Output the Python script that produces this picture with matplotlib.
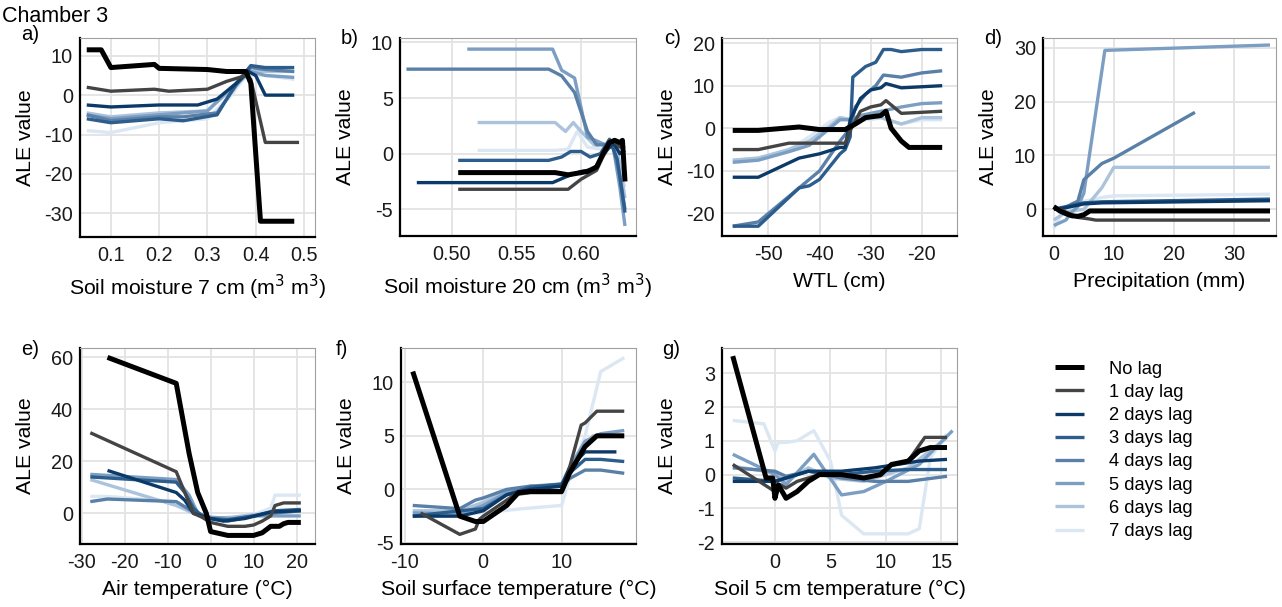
#!/usr/bin/env python3
"""ALE curves per lag for Chamber 3, seven driver panels plus a legend."""

import matplotlib
matplotlib.use("Agg")
import matplotlib.pyplot as plt

plt.rcParams["font.family"] = ["Liberation Sans", "DejaVu Sans"]
plt.rcParams["axes.unicode_minus"] = False

W, H = 1282, 607

LAGS = ["No lag", "1 day lag", "2 days lag", "3 days lag",
        "4 days lag", "5 days lag", "6 days lag", "7 days lag"]
LAG_COLORS = ["#000000", "#444444", "#0b3a68", "#2d5d8c",
              "#5a80a8", "#7b9ec2", "#abc3dc", "#dbe7f3"]

# ---- a) Soil moisture 7 cm -------------------------------------------------
sm7_x = {
    "No lag": [0.05, 0.08, 0.10, 0.19, 0.20, 0.30, 0.34, 0.38, 0.39, 0.41, 0.48],
    "1 day lag": [0.05, 0.10, 0.19, 0.22, 0.30, 0.34, 0.38, 0.39, 0.42, 0.49],
    "2 days lag": [0.05, 0.10, 0.20, 0.28, 0.32, 0.36, 0.385, 0.40, 0.42, 0.48],
    "3 days lag": [0.05, 0.10, 0.20, 0.25, 0.32, 0.36, 0.39, 0.42, 0.48],
    "4 days lag": [0.05, 0.10, 0.20, 0.25, 0.32, 0.36, 0.39, 0.42, 0.48],
    "5 days lag": [0.05, 0.10, 0.20, 0.30, 0.35, 0.39, 0.42, 0.48],
    "6 days lag": [0.05, 0.10, 0.20, 0.30, 0.35, 0.39, 0.42, 0.48],
    "7 days lag": [0.05, 0.10, 0.20, 0.30, 0.35, 0.38, 0.42, 0.48],
}
sm7_y = {
    "No lag": [11.5, 11.5, 7.0, 7.8, 6.8, 6.5, 6.0, 6.0, 3.0, -32.0, -32.0],
    "1 day lag": [2.0, 1.0, 1.5, 1.0, 1.5, 3.5, 5.0, 4.0, -12.0, -12.0],
    "2 days lag": [-2.5, -3.0, -2.5, -2.5, -1.0, 3.0, 6.0, 5.0, 0.0, 0.0],
    "3 days lag": [-6.0, -7.0, -6.0, -6.5, -5.0, 3.0, 7.5, 7.0, 7.0],
    "4 days lag": [-5.0, -6.5, -5.5, -5.5, -4.5, 2.5, 7.0, 6.5, 6.0],
    "5 days lag": [-5.0, -6.0, -5.0, -4.0, 2.0, 6.0, 5.0, 4.5],
    "6 days lag": [-4.5, -5.5, -4.5, -4.0, 1.5, 6.0, 6.0, 6.0],
    "7 days lag": [-9.0, -9.5, -7.0, -6.0, 0.0, 5.0, 5.0, 4.0],
}

# ---- b) Soil moisture 20 cm ------------------------------------------------
sm20_x = {
    "No lag": [0.505, 0.58, 0.59, 0.605, 0.612, 0.617, 0.622, 0.626, 0.630, 0.632, 0.634],
    "1 day lag": [0.505, 0.59, 0.60, 0.612, 0.62, 0.625, 0.63, 0.634],
    "2 days lag": [0.473, 0.578, 0.59, 0.60, 0.61, 0.62, 0.625, 0.63, 0.634],
    "3 days lag": [0.505, 0.575, 0.585, 0.592, 0.60, 0.607, 0.615, 0.622, 0.628, 0.634],
    "4 days lag": [0.465, 0.575, 0.585, 0.595, 0.605, 0.612, 0.62, 0.625, 0.63, 0.634],
    "5 days lag": [0.512, 0.578, 0.585, 0.595, 0.605, 0.615, 0.625, 0.63, 0.634],
    "6 days lag": [0.52, 0.58, 0.588, 0.594, 0.60, 0.61, 0.62, 0.628, 0.634],
    "7 days lag": [0.52, 0.58, 0.59, 0.597, 0.605, 0.615, 0.625, 0.634],
}
sm20_y = {
    "No lag": [-1.7, -1.7, -1.9, -1.6, -1.2, 0.0, 1.0, 1.2, 1.0, 1.2, -2.5],
    "1 day lag": [-3.2, -3.2, -2.3, -1.5, 0.5, 1.2, 0.6, 0.7],
    "2 days lag": [-2.6, -2.6, -2.0, -1.6, -1.4, 0.3, 1.0, 0.0, 0.3],
    "3 days lag": [-0.6, -0.6, -0.3, 0.2, 0.2, -0.3, 0.0, 1.3, -0.5, -5.3],
    "4 days lag": [7.6, 7.6, 7.0, 5.5, 2.0, 0.8, 0.8, 0.5, -2.0, -5.0],
    "5 days lag": [9.4, 9.4, 7.5, 6.8, 1.5, 1.0, 0.5, -3.0, -6.5],
    "6 days lag": [2.8, 2.8, 2.0, 2.8, 2.0, 0.8, 0.8, 0.5, -4.0],
    "7 days lag": [0.3, 0.3, 0.4, 2.0, 0.6, 0.4, 0.8, -3.0],
}

# ---- c) WTL ----------------------------------------------------------------
wtl_x = {
    "No lag": [-57, -52, -44, -40, -35, -33, -31, -28, -27, -26, -24, -22.5, -16],
    "1 day lag": [-57, -52, -46, -35, -34, -32, -30, -28, -27, -24, -16],
    "2 days lag": [-57, -52, -44, -40, -36, -35, -34, -32, -30, -28, -27, -24, -16],
    "3 days lag": [-57, -52, -44, -42, -40, -38, -36, -35, -34, -33.5, -31, -29,
                   -27.5, -26, -24, -20, -16],
    "4 days lag": [-57, -52, -46, -40, -36, -34, -33, -31, -29, -27.5, -24, -20, -16],
    "5 days lag": [-57, -52, -46, -42, -38, -36, -34, -32, -28, -24, -20, -16],
    "6 days lag": [-57, -52, -46, -42, -38, -36, -34, -31, -28, -24, -20, -16],
    "7 days lag": [-57, -52, -46, -42, -38, -36, -33, -30, -28, -24, -20, -16],
}
wtl_y = {
    "No lag": [-0.5, -0.5, 0.3, -0.3, -0.3, 1.0, 2.5, 3.0, 4.0, 0.0, -3.0, -4.5, -4.5],
    "1 day lag": [-5.0, -5.0, -3.5, -3.5, -0.5, 4.0, 5.0, 5.5, 6.5, 3.5, 4.0],
    "2 days lag": [-11.5, -11.5, -7.0, -6.0, -4.5, -4.5, 2.0, 7.0, 9.0, 9.5, 10.5, 9.5, 10.0],
    "3 days lag": [-23.0, -23.0, -14.0, -13.5, -12.0, -9.0, -6.0, -5.0, -2.0, 12.0, 14.5,
                   15.5, 18.5, 18.5, 18.0, 18.5, 18.5],
    "4 days lag": [-23.0, -22.0, -16.0, -10.0, -3.0, 0.0, 5.0, 8.0, 10.0, 12.5, 12.0, 13.0, 13.5],
    "5 days lag": [-8.0, -7.5, -5.5, -4.0, 0.0, 2.0, 2.0, 3.0, 4.0, 5.0, 5.8, 6.0],
    "6 days lag": [-7.5, -7.0, -5.0, -3.0, 0.5, 2.5, 2.0, 2.5, 2.5, 1.0, 2.5, 2.5],
    "7 days lag": [-7.5, -7.0, -5.0, -2.0, 1.5, 2.5, 2.0, 2.0, 2.5, 1.0, 2.0, 2.0],
}

# ---- d) Precipitation ------------------------------------------------------
prec_x = {
    "No lag": [0, 1, 2, 3, 4, 5, 6, 7, 36],
    "1 day lag": [0, 1, 2, 4, 6, 7, 36],
    "2 days lag": [0, 2, 5, 8, 36],
    "3 days lag": [0, 2, 5, 8, 36],
    "4 days lag": [0, 2, 3, 4, 5, 8, 10, 23.5],
    "5 days lag": [0, 1, 2, 3, 4, 5, 8.5, 36],
    "6 days lag": [0, 2, 5, 8, 10, 36],
    "7 days lag": [0, 2, 5, 8, 10, 36],
}
prec_y = {
    "No lag": [0.5, -0.3, -0.8, -1.2, -1.3, -1.0, -0.3, -0.3, -0.3],
    "1 day lag": [0.5, 0.0, -0.5, -1.5, -1.8, -2.0, -2.0],
    "2 days lag": [0.0, 0.3, 1.0, 1.2, 1.6],
    "3 days lag": [0.0, 0.5, 1.2, 1.4, 1.9],
    "4 days lag": [0.0, 0.3, 1.0, 1.5, 5.5, 8.5, 9.5, 18.0],
    "5 days lag": [-3.0, -2.5, -2.0, -0.5, 0.5, 3.0, 29.5, 30.5],
    "6 days lag": [-2.0, -0.5, 0.0, 4.0, 7.8, 7.8],
    "7 days lag": [-3.5, 0.5, 1.5, 2.2, 2.5, 2.8],
}

# ---- e) Air temperature ----------------------------------------------------
air_x = {
    "No lag": [-24, -8, -5, -3, -1, 0, 4, 10, 12, 14, 16, 17, 18, 21],
    "1 day lag": [-28, -8, -6, -4, -2, 0, 4, 8, 10, 12, 14, 15, 17, 21],
    "2 days lag": [-24, -8, -6, -4, -2, 0, 3, 8, 14, 21],
    "3 days lag": [-28, -8, -6, -4, -2, 0, 4, 10, 15, 21],
    "4 days lag": [-28, -24, -8, -4, 0, 4, 10, 14, 21],
    "5 days lag": [-28, -8, -5, -3, 0, 5, 10, 15, 21],
    "6 days lag": [-28, -8, -4, 0, 5, 10, 15, 21],
    "7 days lag": [-28, -24, -8, -4, 0, 5, 10, 14, 15, 21],
}
air_y = {
    "No lag": [60, 50, 23, 8, 0, -7, -8.5, -8.5, -7.5, -5, -5, -4, -3.5, -3.5],
    "1 day lag": [31, 16, 8, 0, -1.5, -3.5, -5, -5, -4.5, -3, -1, 3, 4, 4],
    "2 days lag": [16.5, 8, 5, 0, -1, -2, -3, -2, 0.5, 1],
    "3 days lag": [14, 12, 8, 2, -1, -2, -2.5, -1, 1, 1.5],
    "4 days lag": [4.5, 5.5, 4.5, 0.5, -2, -3, -1, 0, 1],
    "5 days lag": [15, 13, 7, 0, -1.5, -2, -1, -1, -1],
    "6 days lag": [13, 3, 0, -2, -1.5, -0.5, 0, 1],
    "7 days lag": [6.5, 6.5, 4.5, 0.5, -3, -2, -0.5, 2, 7, 7],
}

# ---- f) Soil surface temperature -------------------------------------------
surf_x = {
    "No lag": [-9, -3, -1, 0, 1, 3, 4.5, 6, 10, 11, 13, 14.5, 18],
    "1 day lag": [-8, -3, -1, -0.5, 0, 2, 4, 6, 10, 11, 12.5, 13, 14.5, 18],
    "2 days lag": [-9, -3, 0, 3, 6, 10, 11, 13, 17],
    "3 days lag": [-9, -3, 0, 3, 6, 10, 11, 13, 15, 18],
    "4 days lag": [-9, -3, -1, 0, 3, 6, 10, 11, 13, 15, 18],
    "5 days lag": [-9, -3, 0, 3, 6, 10, 11, 13, 15, 18],
    "6 days lag": [-9, -3, 0, 3, 6, 10, 12, 14, 18],
    "7 days lag": [-9, -3, 0, 5, 10, 11, 13, 15, 18],
}
surf_y = {
    "No lag": [11, -2.5, -3, -3, -2.5, -1.5, -0.3, -0.2, -0.2, 1.5, 4, 5, 5],
    "1 day lag": [-2.2, -4.2, -3.7, -2.8, -2.5, -1.5, -0.5, -0.3, -0.3, 2, 6, 6.2, 7.3, 7.3],
    "2 days lag": [-2.5, -2.5, -2, -0.5, 0, 0.3, 2, 3.5, 3.5],
    "3 days lag": [-2.5, -2.0, -1.8, -0.5, 0.2, 0.5, 1.5, 2.8, 2.8, 2.6],
    "4 days lag": [-1.5, -1.8, -1, -0.8, 0, 0.3, 0.3, 1, 1.8, 1.8, 1.5],
    "5 days lag": [-2.2, -2.3, -1.5, -0.3, 0.3, 0.5, 2, 4.5, 5.2, 5.5],
    "6 days lag": [-2.0, -2.0, -1.2, -0.2, 0.2, 0.3, 3, 5, 5],
    "7 days lag": [-2.2, -2.2, -2.2, -1.8, -1.5, 1, 5, 11, 12.3],
}

# ---- g) Soil 5 cm temperature ----------------------------------------------
s5_x = {
    "No lag": [-3.8, -0.8, -0.2, 0, 0.3, 1, 2, 3, 4, 6, 8, 9.5, 10.5, 12, 13, 14, 15.5],
    "1 day lag": [-3.8, 0, 0.5, 1, 2, 4, 6, 8, 9.5, 10.5, 12, 13.5, 15.5],
    "2 days lag": [-3.8, 0, 1, 3, 6, 9, 11, 13, 15.5],
    "3 days lag": [-3.8, 0, 1, 3, 6, 9, 12, 15.5],
    "4 days lag": [-3.8, 0, 1, 3, 6, 9, 12, 15.5],
    "5 days lag": [-3.8, 0, 1, 3.5, 6, 8, 10, 13, 16],
    "6 days lag": [-3.8, 0, 1, 3, 5, 8, 12, 15.5],
    "7 days lag": [-3.8, -1, 0, 0.3, 1, 2, 3.5, 5, 6, 8, 10, 12, 13, 14, 15.5],
}
s5_y = {
    "No lag": [3.5, -0.1, -0.1, -0.7, -0.3, -0.7, -0.5, -0.2, 0, 0, -0.1, 0, 0.3, 0.4,
               0.7, 0.8, 0.8],
    "1 day lag": [0.3, -0.5, -0.3, -0.4, -0.2, 0, 0, -0.1, 0, 0.3, 0.4, 1.1, 1.1],
    "2 days lag": [-0.2, -0.2, -0.1, 0.1, 0.1, 0.2, 0.3, 0.4, 0.45],
    "3 days lag": [-0.1, -0.2, -0.1, 0.1, 0.0, 0.1, 0.15, 0.15],
    "4 days lag": [0.2, 0.1, -0.05, 0.1, -0.1, -0.2, -0.2, -0.05],
    "5 days lag": [0.6, 0.0, -0.3, 0.6, -0.6, -0.5, -0.2, 0.3, 1.3],
    "6 days lag": [0.25, 0.05, -0.2, 0.2, -0.1, -0.2, 0.2, 1.1],
    "7 days lag": [1.6, 1.5, 0.7, 0.95, 0.95, 1.0, 1.3, 0.4, -1.2, -1.75, -1.75, -1.75,
                   -1.6, 0.5, 1.2],
}

PANELS = [
    # letter, xlabel, xs, ys, axes box px (left, top, right, bottom), xlim, ylim,
    # xticks, yticks, tick format, letter gap px
    ("a)", "Soil moisture 7 cm (m$^3$ m$^3$)", sm7_x, sm7_y, (80, 38, 315, 237),
     (0.036, 0.523), (-36, 14.5), [0.1, 0.2, 0.3, 0.4, 0.5], [10, 0, -10, -20, -30],
     "{:.1f}", 41),
    ("b)", "Soil moisture 20 cm (m$^3$ m$^3$)", sm20_x, sm20_y, (400, 38, 636, 236),
     (0.46, 0.6425), (-7.4, 10.4), [0.50, 0.55, 0.60], [10, 5, 0, -5], "{:.2f}", 41),
    ("c)", "WTL (cm)", wtl_x, wtl_y, (722, 38, 957, 236),
     (-59.1, -13.1), (-25.3, 21.2), [-50, -40, -30, -20], [20, 10, 0, -10, -20],
     "{:.0f}", 41),
    ("d)", "Precipitation (mm)", prec_x, prec_y, (1043, 38, 1276, 236),
     (-1.8, 37), (-4.95, 31.8), [0, 10, 20, 30], [30, 20, 10, 0], "{:.0f}", 41),
    ("e)", "Air temperature (\u00b0C)", air_x, air_y, (80, 348, 315, 544),
     (-30.4, 24.3), (-11.8, 63.6), [-30, -20, -10, 0, 10, 20], [60, 40, 20, 0],
     "{:.0f}", 41),
    ("f)", "Soil surface temperature (\u00b0C)", surf_x, surf_y, (401, 348, 636, 544),
     (-10.5, 19.5), (-5.1, 13.2), [-10, 0, 10], [10, 5, 0, -5], "{:.0f}", 53),
    ("g)", "Soil 5 cm temperature (\u00b0C)", s5_x, s5_y, (722, 348, 957, 544),
     (-4.77, 16.4), (-2.05, 3.74), [0, 5, 10, 15], [3, 2, 1, 0, -1, -2], "{:.0f}", 42),
]


def make_axes(fig, box):
    left, top, right, bottom = box
    return fig.add_axes([left / W, 1 - bottom / H, (right - left) / W, (bottom - top) / H])


def main():
    fig = plt.figure(figsize=(W / 100, H / 100), dpi=100)
    fig.text(2 / W, 1 - 16 / H, "Chamber 3", fontsize=15.5, va="center", ha="left")

    handles = []
    for (letter, xlabel, xs, ys, box, xlim, ylim, xticks, yticks, xfmt,
         gap) in PANELS:
        ax = make_axes(fig, box)
        pw = box[2] - box[0]
        ph = box[3] - box[1]
        # lightest lag first so "No lag" ends up on top
        for lag, color in reversed(list(zip(LAGS, LAG_COLORS))):
            lw = 3.6 if lag == "No lag" else 2.4
            (ln,) = ax.plot(xs[lag], ys[lag], color=color, lw=lw, label=lag,
                            solid_joinstyle="round", solid_capstyle="butt")
            if letter == "a)":
                handles.append(ln)

        ax.set_xlim(*xlim)
        ax.set_ylim(*ylim)
        ax.set_xticks(xticks)
        ax.set_xticklabels([xfmt.format(v) for v in xticks])
        ax.set_yticks(yticks)
        ax.set_yticklabels([f"{v:g}" for v in yticks])
        ax.grid(True, color="#e3e3e3", lw=1.3)
        ax.set_axisbelow(True)
        ax.tick_params(length=0, labelsize=14.3, colors="#1a1a1a")
        ax.tick_params(axis="x", pad=6.5)
        ax.tick_params(axis="y", pad=5)
        for side in ("top", "right"):
            ax.spines[side].set_color("#a0a0a0")
            ax.spines[side].set_linewidth(0.8)
        for side in ("left", "bottom"):
            ax.spines[side].set_color("black")
            ax.spines[side].set_linewidth(1.6)
        ax.set_xlabel(xlabel, fontsize=15.3)
        ax.set_ylabel("ALE value", fontsize=15.3)
        ax.xaxis.set_label_coords(0.5, -36 / ph)
        ax.yaxis.set_label_coords(-45 / pw, 0.5)

        top_off = -3 if letter == "a)" else 1
        fig.text((box[0] - gap) / W, 1 - (box[1] + top_off) / H, letter,
                 fontsize=14.6, ha="right", va="center")

    handles = handles[::-1]
    fig.legend(handles, LAGS, loc="upper left",
               bbox_to_anchor=(1038 / W, 1 - 344 / H), frameon=False,
               fontsize=13.2, handlelength=1.6, handletextpad=1.35,
               labelspacing=0.34)

    fig.savefig("out.png", dpi=100)
    plt.close(fig)


if __name__ == "__main__":
    main()
